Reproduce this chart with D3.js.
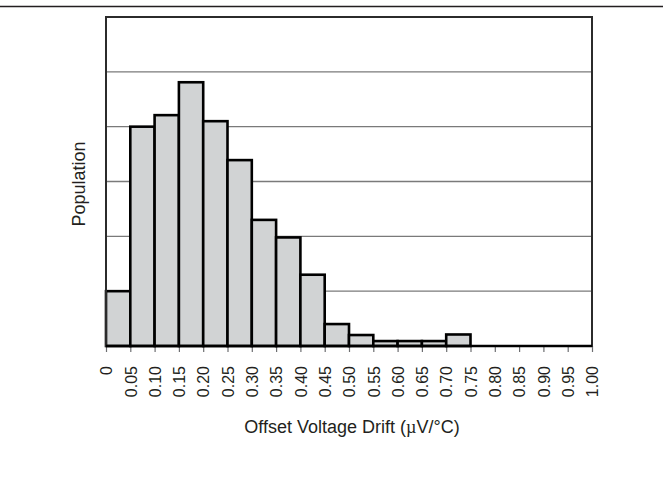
<!DOCTYPE html>
<html>
<head>
<meta charset="utf-8">
<script src="https://cdn.jsdelivr.net/npm/d3@7"></script>
<style>
  html, body { margin: 0; padding: 0; background: #fff; }
  svg { display: block; }
  text { font-family: "Liberation Sans", Arial, Helvetica, sans-serif; fill: #231f20; }
</style>
</head>
<body>
<svg id="chart" width="663" height="480"></svg>
<script>
// Bin lower edges (µV/°C), bin width 0.05
const binStarts = [0, 0.05, 0.10, 0.15, 0.20, 0.25, 0.30, 0.35, 0.40, 0.45,
                   0.50, 0.55, 0.60, 0.65, 0.70, 0.75, 0.80, 0.85, 0.90, 0.95];
// Relative population (in grid units, 0–6)
const population = [1.0, 4.0, 4.21, 4.81, 4.1, 3.39, 2.3, 1.98, 1.3, 0.4,
                    0.2, 0.09, 0.09, 0.09, 0.21, 0, 0, 0, 0, 0];
const binWidth = 0.05;
const xTickValues = [0, 0.05, 0.10, 0.15, 0.20, 0.25, 0.30, 0.35, 0.40, 0.45, 0.50,
                     0.55, 0.60, 0.65, 0.70, 0.75, 0.80, 0.85, 0.90, 0.95, 1.00];
const xTickLabels = ["0", "0.05", "0.10", "0.15", "0.20", "0.25", "0.30", "0.35", "0.40", "0.45", "0.50",
                     "0.55", "0.60", "0.65", "0.70", "0.75", "0.80", "0.85", "0.90", "0.95", "1.00"];
const yGridValues = [1, 2, 3, 4, 5];
const xTitle = "Offset Voltage Drift (";
const xTitleMu = "µ";
const xTitleEnd = "V/°C)";
const yTitle = "Population";

const svg = d3.select("#chart");
const W = 663;
const plot = { left: 106, right: 592, top: 17, bottom: 346 };

const x = d3.scaleLinear().domain([0, 1.0]).range([plot.left, plot.right]);
const y = d3.scaleLinear().domain([0, 6]).range([plot.bottom, plot.top]);

// top rule across page
svg.append("line")
  .attr("x1", 0).attr("x2", W).attr("y1", 6.5).attr("y2", 6.5)
  .attr("stroke", "#231f20").attr("stroke-width", 1.6);

// grid lines
svg.append("g").selectAll("line").data(yGridValues).join("line")
  .attr("x1", plot.left).attr("x2", plot.right)
  .attr("y1", d => y(d)).attr("y2", d => y(d))
  .attr("stroke", "#7a7a7a").attr("stroke-width", 1.4);

// x ticks
const xAxis = d3.axisBottom(x).tickValues(xTickValues).tickSize(6)
  .tickFormat((d, i) => xTickLabels[i]);
const gx = svg.append("g").attr("transform", `translate(0,${plot.bottom})`).call(xAxis);
gx.select(".domain").remove();
gx.selectAll(".tick line").attr("stroke", "#6d6e71").attr("stroke-width", 1.2);
gx.selectAll(".tick text")
  .attr("transform", "rotate(-90)")
  .attr("x", -20).attr("y", 0).attr("dy", "0.36em")
  .attr("text-anchor", "end")
  .style("font-family", "'Liberation Sans', Arial, sans-serif")
  .style("font-size", "16px")
  .attr("fill", "#231f20");

// bars
svg.append("g").selectAll("rect").data(binStarts.map((b, i) => ({ b, v: population[i] })))
  .join("rect")
  .attr("x", d => x(d.b))
  .attr("width", d => x(d.b + binWidth) - x(d.b))
  .attr("y", d => y(d.v))
  .attr("height", d => y(0) - y(d.v))
  .attr("fill", "#d1d3d4")
  .attr("stroke", "#000")
  .attr("stroke-width", 2.6);

// frame
svg.append("rect")
  .attr("x", plot.left).attr("y", plot.top)
  .attr("width", plot.right - plot.left).attr("height", plot.bottom - plot.top)
  .attr("fill", "none").attr("stroke", "#2b2b2b").attr("stroke-width", 2);
// bottom baseline thicker
svg.append("line")
  .attr("x1", plot.left).attr("x2", plot.right)
  .attr("y1", plot.bottom).attr("y2", plot.bottom)
  .attr("stroke", "#000").attr("stroke-width", 2.6);

// x title
const xt = svg.append("text")
  .attr("x", 352).attr("y", 433)
  .attr("text-anchor", "middle")
  .style("font-size", "18px");
xt.append("tspan").text(xTitle);
xt.append("tspan").style("font-family", "'Liberation Serif', 'DejaVu Serif', serif").text(xTitleMu);
xt.append("tspan").text(xTitleEnd);

// y title
svg.append("text")
  .attr("transform", `translate(85,184) rotate(-90)`)
  .attr("text-anchor", "middle")
  .style("font-size", "18px")
  .text(yTitle);
</script>
</body>
</html>
